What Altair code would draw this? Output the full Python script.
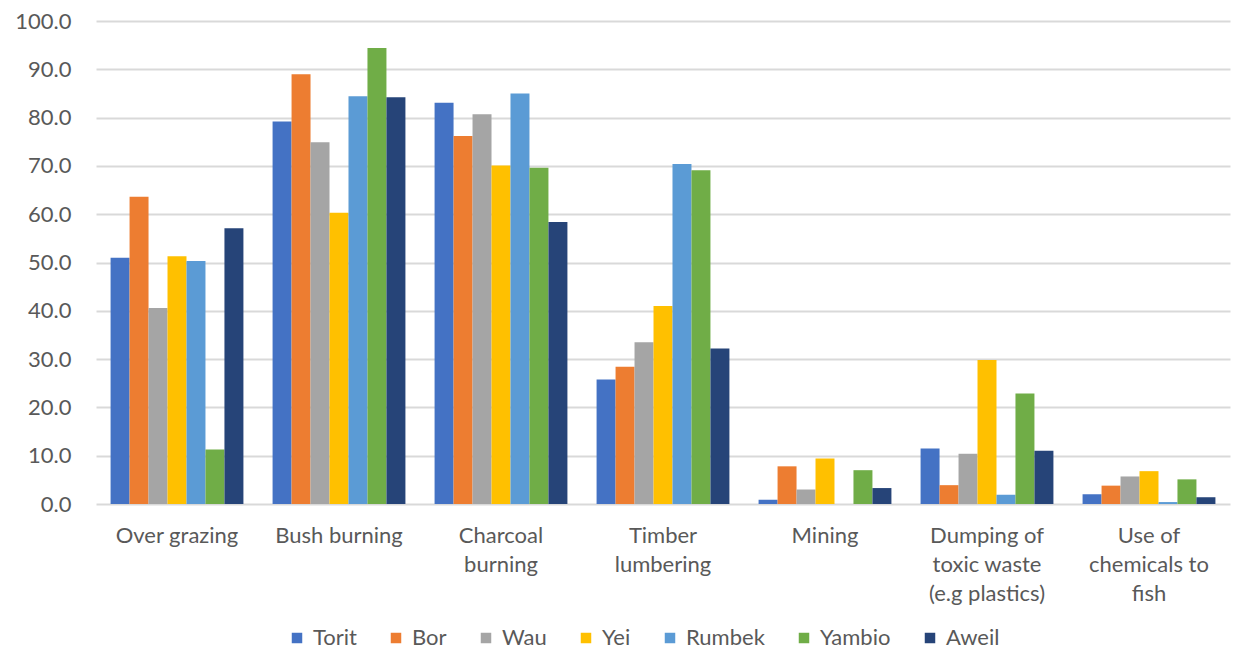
import altair as alt
import pandas as pd

categories = ["Over grazing", "Bush burning", "Charcoal|burning", "Timber|lumbering",
              "Mining", "Dumping of|toxic waste|(e.g plastics)", "Use of|chemicals to|fish"]
sites = ["Torit", "Bor", "Wau", "Yei", "Rumbek", "Yambio", "Aweil"]
colors = ["#4472C4", "#ED7D31", "#A5A5A5", "#FFC000", "#5B9BD5", "#70AD47", "#264478"]

torit = [51.0, 79.2, 83.1, 25.8, 0.9, 11.5, 2.0]
bor = [63.6, 89.0, 76.2, 28.4, 7.8, 3.9, 3.8]
wau = [40.6, 74.9, 80.7, 33.5, 3.0, 10.4, 5.7]
yei = [51.3, 60.3, 70.1, 41.0, 9.4, 29.8, 6.8]
rumbek = [50.3, 84.4, 85.0, 70.4, 0.0, 1.9, 0.4]
yambio = [11.3, 94.4, 69.6, 69.1, 7.0, 22.9, 5.1]
aweil = [57.1, 84.2, 58.4, 32.2, 3.3, 11.0, 1.4]

series = [torit, bor, wau, yei, rumbek, yambio, aweil]
rows = []
for site, vals in zip(sites, series):
    for cat, v in zip(categories, vals):
        rows.append({"category": cat, "site": site, "value": v})
df = pd.DataFrame(rows)

FONT = "Lato"
GRAY = "#595959"

chart = alt.Chart(df).mark_bar().encode(
    x=alt.X("category:N", sort=categories, title=None,
            scale=alt.Scale(paddingInner=0.18, paddingOuter=0.09),
            axis=alt.Axis(labelExpr="split(datum.label, '|')", labelAngle=0,
                          labelFontSize=22, labelColor=GRAY, labelFont=FONT,
                          labelLineHeight=29, labelPadding=21, labelBaseline="top",
                          ticks=False, domain=False, grid=False)),
    xOffset=alt.XOffset("site:N", sort=sites, scale=alt.Scale(paddingInner=0, paddingOuter=0)),
    y=alt.Y("value:Q", title=None, scale=alt.Scale(domain=[0, 100], nice=False),
            axis=alt.Axis(values=list(range(0, 101, 10)), format=".1f",
                          labelFontSize=22, labelColor=GRAY, labelFont=FONT,
                          labelPadding=25, ticks=False, domain=False,
                          grid=True, gridColor="#d9d9d9", gridWidth=2)),
    color=alt.Color("site:N", sort=sites,
                    scale=alt.Scale(domain=sites, range=colors),
                    legend=alt.Legend(title=None, orient="none", legendX=190, legendY=606,
                                      direction="horizontal", symbolType="square",
                                      symbolSize=110, symbolStrokeWidth=0,
                                      labelFontSize=22, labelColor=GRAY, labelFont=FONT,
                                      columnPadding=28, labelOffset=5)),
).properties(
    width=1134, height=483,
    autosize=alt.AutoSizeParams(type="none"),
    padding={"left": 88, "top": 13, "right": 1, "bottom": 146},
).configure_view(stroke=None)

chart.save("out.html", embed_options={"renderer": "svg", "actions": False})
